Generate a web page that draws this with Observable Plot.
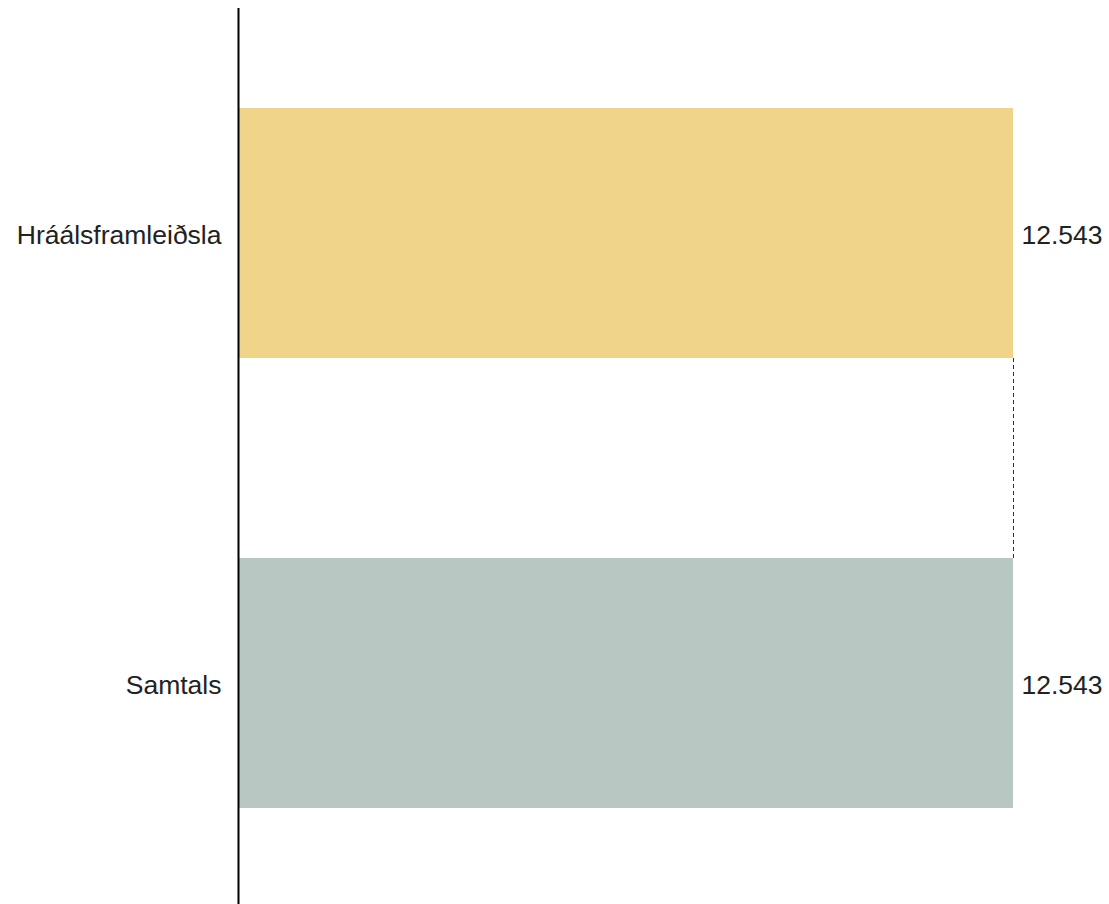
<!DOCTYPE html>
<html>
<head>
<meta charset="utf-8">
<script src="https://cdn.jsdelivr.net/npm/d3@7"></script>
<script src="https://cdn.jsdelivr.net/npm/@observablehq/plot@0.6"></script>
<style>
  html, body { margin: 0; padding: 0; background: #fff; overflow: hidden; }
  #chart svg { display: block; }
</style>
</head>
<body>
<div id="chart"></div>
<script>
const categories = ["Hráálsframleiðsla", "Samtals"];
const values = [12543, 12543];
const colors = ["#F0D48A", "#B8C7C2"];

const data = categories.map((c, i) => ({category: c, value: values[i], color: colors[i]}));
const connector = [{from: categories[0], to: categories[1], value: values[0]}];

const isLocale = d3.formatLocale({decimal: ",", thousands: ".", grouping: [3], currency: ["", " kr."]});
const fmt = isLocale.format(",");

const chart = Plot.plot({
  width: 1109,
  height: 908,
  marginTop: 8,
  marginBottom: 0,
  marginLeft: 239,
  marginRight: 96,
  style: {fontFamily: "Liberation Sans, Arial, sans-serif", fontSize: "26.5px", color: "#222", background: "#fff"},
  x: {domain: [0, 12543], axis: null},
  y: {domain: categories, paddingInner: 0.4444, paddingOuter: 0.2222, label: null},
  color: {type: "identity"},
  marks: [
    Plot.barX(data, {x: "value", y: "category", fill: "color"}),
    Plot.ruleX(connector, {
      x: "value", y1: "from", y2: "to",
      stroke: "#333", strokeWidth: 1, strokeDasharray: "4,3",
      render: (index, scales, vals, dims, ctx, next) => {
        const bw = scales.y.bandwidth ? scales.y.bandwidth() : 0;
        const v = {...vals,
          y1: Array.from(vals.y1, (d) => d + bw),
          y2: Array.from(vals.y2, (d) => d - bw)};
        return next(index, scales, v, dims, ctx);
      }
    }),
    Plot.text(data, {x: "value", y: "category", text: (d) => fmt(d.value), textAnchor: "start", dx: 8, dy: 2, fill: "#222", fontSize: 26.5}),
    Plot.axisY({tickSize: 0, tickPadding: 18, dy: 2, fontSize: 26.5, fill: "#222", label: null}),
    Plot.ruleX([0], {stroke: "#000", strokeWidth: 2, dx: -1})
  ]
});
document.getElementById("chart").appendChild(chart);
</script>
</body>
</html>
